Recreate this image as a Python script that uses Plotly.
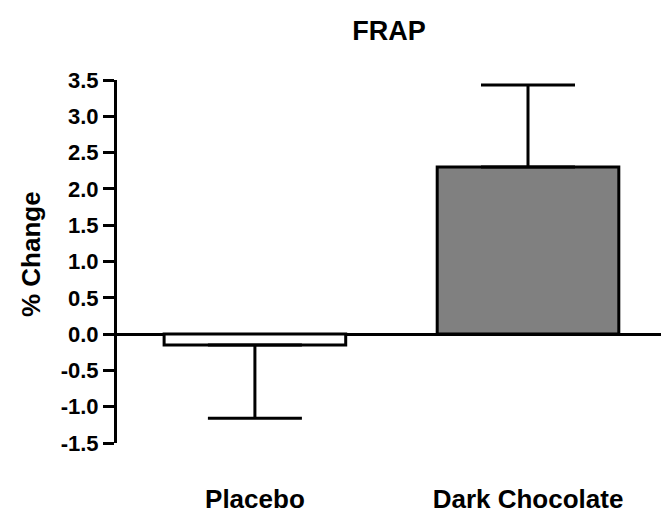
import plotly.graph_objects as go

categories = ["Placebo", "Dark Chocolate"]
values = [-0.15, 2.30]
err_up = [0.0, 1.13]
err_down = [1.01, 0.0]
bar_colors = ["#ffffff", "#808080"]
y_ticks = [-1.5, -1.0, -0.5, 0.0, 0.5, 1.0, 1.5, 2.0, 2.5, 3.0, 3.5]

FONT = "Liberation Sans, Arial, sans-serif"

fig = go.Figure()
fig.add_trace(go.Bar(
    x=[0, 1],
    y=values,
    width=0.665,
    marker=dict(color=bar_colors, line=dict(color="black", width=3)),
    error_y=dict(type="data", symmetric=False, array=err_up, arrayminus=err_down,
                 color="black", thickness=3, width=47),
    showlegend=False,
))

fig.add_annotation(
    text="% Change", textangle=-90,
    xref="paper", x=-(117 - 31) / 544, xanchor="center",
    yref="paper", y=(443 - 254) / 363, yanchor="middle",
    showarrow=False,
    font=dict(family=FONT, size=26, weight=700, color="black"),
)

fig.update_layout(
    width=661, height=520,
    margin=dict(l=117, r=0, t=80, b=77),
    paper_bgcolor="white", plot_bgcolor="white",
    font=dict(family=FONT, color="black"),
    title=dict(text="FRAP", x=0.5, xref="paper", y=1 - 31 / 520, yref="container",
               xanchor="center", yanchor="middle",
               font=dict(family=FONT, size=27, weight=700, color="black")),
    xaxis=dict(range=[-0.505, 1.487], tickvals=[0, 1], ticktext=categories,
               showline=False, showgrid=False, zeroline=False, ticks="",
               ticklabelstandoff=38,
               tickfont=dict(family=FONT, size=26, weight=700, color="black")),
    yaxis=dict(range=[-1.5, 3.5], tickvals=y_ticks,
               ticktext=[f"{v:.1f}" for v in y_ticks],
               showline=True, linecolor="black", linewidth=3,
               ticks="outside", ticklen=11, tickwidth=3, tickcolor="black",
               showgrid=False, zeroline=True, zerolinecolor="black", zerolinewidth=3,
               tickfont=dict(family=FONT, size=22, weight=700, color="black")),
)

fig.write_html("out.html")
